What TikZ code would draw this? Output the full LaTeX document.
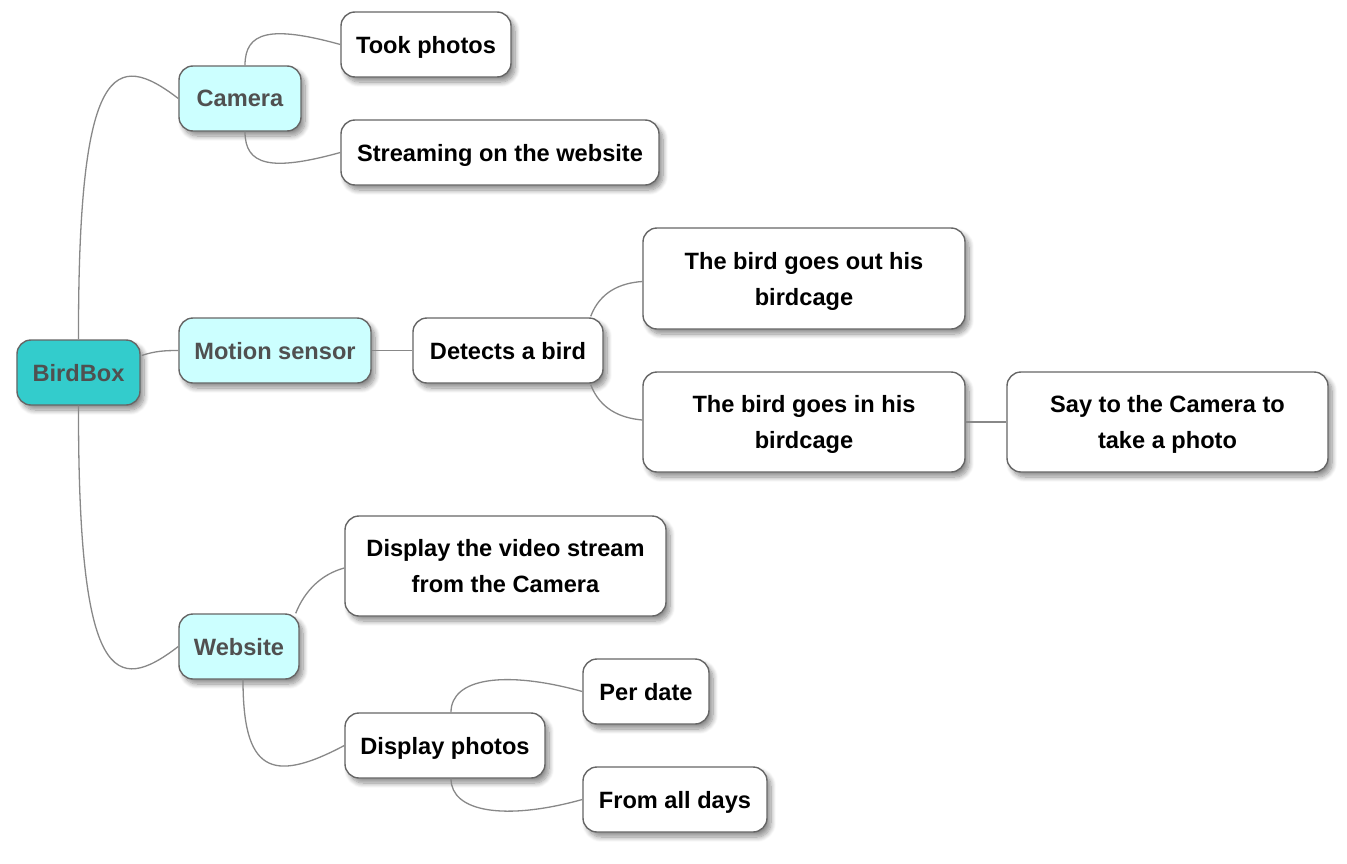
\documentclass[tikz,border=0pt]{standalone}
\usepackage{fontspec}
\setmainfont{Liberation Sans}
\usetikzlibrary{calc,shadows.blur}
\definecolor{rootfill}{RGB}{51,204,204}
\definecolor{lvlfill}{RGB}{204,255,255}
\definecolor{boxborder}{RGB}{102,102,102}
\definecolor{linkcol}{RGB}{136,136,136}
\definecolor{dimtext}{RGB}{80,80,80}
\tikzset{
  mmbox/.style={draw=boxborder, line width=1.4bp, rounded corners=14bp, fill=white,
    align=center, inner sep=0pt, text=black, text depth=0pt,
    font=\fontsize{23.6bp}{36bp}\selectfont\bfseries,
    blur shadow={shadow xshift=4bp, shadow yshift=-5bp, shadow blur radius=5bp, shadow opacity=45, shadow blur steps=10}},
  rootbox/.style={mmbox, fill=rootfill, text=dimtext},
  lvlbox/.style={mmbox, fill=lvlfill, text=dimtext},
  link/.style={draw=linkcol, line width=1.3bp},
}
\begin{document}
\begin{tikzpicture}[x=1bp,y=-1bp]
\useasboundingbox (0,0) rectangle (1347,863);
% nodes
\node[rootbox, minimum width=123bp, minimum height=65bp] (root) at (78.5,372.5) {BirdBox};
\node[lvlbox, minimum width=122bp, minimum height=65bp] (camera) at (240,98.5) {Camera};
\node[mmbox, minimum width=170bp, minimum height=65bp] (took) at (426,44.5) {Took photos};
\node[mmbox, minimum width=318bp, minimum height=65bp] (stream) at (500,152.5) {Streaming on the website};
\node[lvlbox, minimum width=192bp, minimum height=65bp] (motion) at (275,350.5) {Motion sensor};
\node[mmbox, minimum width=190bp, minimum height=65bp] (detects) at (508,350.5) {Detects a bird};
\node[mmbox, minimum width=322bp, minimum height=101bp] (out) at (804,278.5) {The bird goes out his\\birdcage};
\node[mmbox, minimum width=322bp, minimum height=100bp] (in) at (804,422) {The bird goes in his\\birdcage};
\node[mmbox, minimum width=321bp, minimum height=100bp] (say) at (1167.5,422) {Say to the Camera to\\take a photo};
\node[lvlbox, minimum width=120bp, minimum height=65bp] (website) at (239,646.5) {Website};
\node[mmbox, minimum width=321bp, minimum height=100bp] (video) at (505.5,566) {Display the video stream\\from the Camera};
\node[mmbox, minimum width=200bp, minimum height=65bp] (photos) at (445,745.5) {Display photos};
\node[mmbox, minimum width=126bp, minimum height=65bp] (perdate) at (646,691.5) {Per date};
\node[mmbox, minimum width=184bp, minimum height=65bp] (fromall) at (675,799.5) {From all days};
% connectors
\draw[link] (root.north) .. controls (78,60) and (115,50) .. (camera.west);
\draw[link] ($(root.east)+(1,-17)$) .. controls (155,351) and (165,350.5) .. (motion.west);
\draw[link] (root.south) .. controls (78,685) and (115,695) .. (website.west);
\draw[link] ($(camera.north)+(5,0)$) .. controls (245,32) and (270,25) .. (took.west);
\draw[link] ($(camera.south)+(5,0)$) .. controls (245,165) and (270,172) .. (stream.west);
\draw[link] (motion.east) -- (detects.west);
\draw[link] ($(detects.north east)+(-13,-1)$) .. controls (600,292) and (620,283) .. ($(out.west)+(0,3)$);
\draw[link] ($(detects.south east)+(-13,1)$) .. controls (600,409) and (620,418) .. ($(in.west)+(0,-2)$);
\draw[link] (in.east) -- (say.west);
\draw[link] ($(website.north east)+(-4,0)$) .. controls (305,590) and (322,574) .. ($(video.west)+(0,2)$);
\draw[link] ($(website.south)+(4,0)$) .. controls (243,770) and (270,785) .. (photos.west);
\draw[link] ($(photos.north)+(6,0)$) .. controls (451,678) and (505,670) .. (perdate.west);
\draw[link] ($(photos.south)+(6,0)$) .. controls (451,812) and (505,821) .. (fromall.west);
\end{tikzpicture}
\end{document}
